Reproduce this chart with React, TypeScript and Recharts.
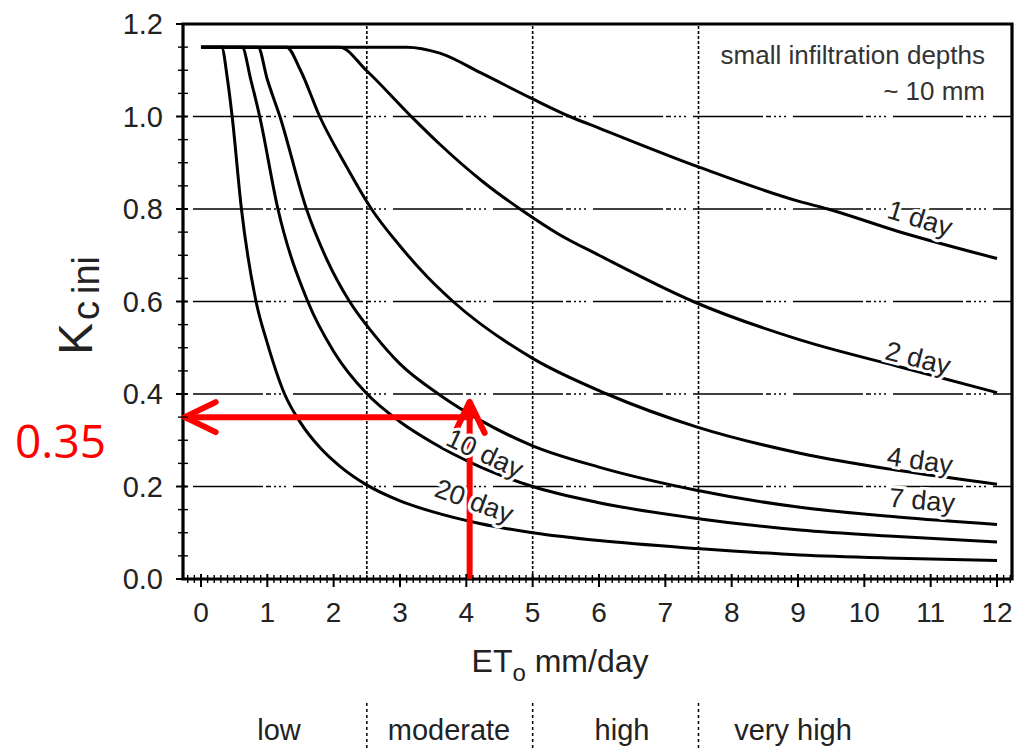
import React from "react";
import { LineChart, Line, XAxis, YAxis, ReferenceLine, ReferenceArea, ReferenceDot } from "recharts";

// ET0 (mm/day) and Kc ini, one pair of arrays per wetting interval
const et0Day1 = [0, 3.1, 3.6, 4.25, 5.0, 5.56, 6.0, 7.5, 9.03, 9.45, 10.5, 12];
const kcDay1 = [1.15, 1.15, 1.137, 1.092, 1.038, 1.0, 0.975, 0.891, 0.816, 0.8, 0.752, 0.693];

const et0Day2 = [0, 2.09, 2.49, 3.17, 3.6, 4.25, 4.81, 5.4, 6.0, 7.42, 9.03, 10.5, 12];
const kcDay2 = [1.15, 1.15, 1.1, 1.0, 0.94, 0.859, 0.8, 0.745, 0.7, 0.6, 0.517, 0.46, 0.403];

const et0Day4 = [0, 1.29, 1.5, 1.79, 2.2, 2.57, 3.0, 3.4, 3.8, 5.0, 6.12, 7.47, 9.03, 10.5, 12];
const kcDay4 = [1.15, 1.15, 1.1, 1.0, 0.89, 0.8, 0.72, 0.655, 0.6, 0.477, 0.4, 0.329, 0.272, 0.235, 0.205];

const et0Day7 = [0, 0.86, 1.0, 1.19, 1.59, 1.9, 2.24, 2.6, 3.0, 3.6, 4.2, 5.0, 6.0, 7.47, 9.03, 10.5, 12];
const kcDay7 = [1.15, 1.15, 1.08, 1.0, 0.8, 0.69, 0.6, 0.53, 0.465, 0.398, 0.344, 0.288, 0.242, 0.192, 0.155, 0.134, 0.118];

const et0Day10 = [0, 0.62, 0.75, 0.885, 1.16, 1.61, 2.0, 2.49, 3.0, 3.5, 4.2, 5.0, 6.0, 7.47, 9.03, 10.5, 12];
const kcDay10 = [1.15, 1.15, 1.08, 1.0, 0.8, 0.6, 0.492, 0.402, 0.34, 0.294, 0.243, 0.2, 0.165, 0.131, 0.106, 0.092, 0.08];

const et0Day20 = [0, 0.31, 0.4, 0.47, 0.61, 0.83, 1.0, 1.26, 1.5, 1.8, 2.1, 2.49, 3.0, 3.5, 4.2, 5.0, 6.0, 7.47, 9.03, 10.5, 12];
const kcDay20 = [1.15, 1.15, 1.08, 1.0, 0.8, 0.6, 0.51, 0.4, 0.338, 0.283, 0.243, 0.204, 0.169, 0.145, 0.12, 0.1, 0.083, 0.066, 0.052, 0.045, 0.04];

const curveNames = ["1 day", "2 day", "4 day", "7 day", "10 day", "20 day"];
const curveX = [et0Day1, et0Day2, et0Day4, et0Day7, et0Day10, et0Day20];
const curveY = [kcDay1, kcDay2, kcDay4, kcDay7, kcDay10, kcDay20];

// where the curve names sit (ET0, Kc) and their tilt
const labelX = [10.84, 10.81, 10.84, 10.87, 4.28, 4.12];
const labelY = [0.78, 0.478, 0.257, 0.171, 0.272, 0.169];
const labelAngle = [17, 14, 8, 5, 25, 20];

const gridKc = [0.2, 0.4, 0.6, 0.8, 1.0];
const zoneBounds = [2.5, 5, 7.5];
const zoneNames = ["low", "moderate", "high", "very high"];
const zoneCenters = [279, 449, 622, 793];

// annotation read-off: ET0 = 4 -> Kc ini = 0.35
const readEt0 = 4.05;
const readKc = 0.35;
const readTip = 0.383;

const X_MIN = -0.271;
const X_MAX = 12.226;
const xTicks = Array.from({ length: 125 }, (_, i) => Math.round(i - 2) / 10);
const yTicks = Array.from({ length: 25 }, (_, i) => Math.round(i * 5) / 100);

const W = 1014;
const H = 748;
const PLOT = { left: 183, top: 24, width: 829, height: 555 };
const xPx = (v: number) => PLOT.left + ((v - X_MIN) / (X_MAX - X_MIN)) * PLOT.width;

const FONT = "'Liberation Sans', Arial, sans-serif";
const gridDash = "70 3 5 3 2 3 2 3 2 7";

const XTick = (props: any) => {
  const { x, y, payload } = props;
  const v = Math.round(payload.value * 10) / 10;
  const major = Number.isInteger(v) && v >= 0;
  return (
    <g>
      <line x1={x} x2={x} y1={major ? y - 5 : y - 4} y2={major ? y + 8 : y + 4} stroke="#000" strokeWidth={major ? 2 : 1.4} />
      {major && (
        <text x={x} y={y + 43} textAnchor="middle" fontSize={28} fontFamily={FONT} fill="#222">
          {v}
        </text>
      )}
    </g>
  );
};

const YTick = (props: any) => {
  const { x, y, payload } = props;
  const v = Math.round(payload.value * 100) / 100;
  const major = Math.abs(v * 5 - Math.round(v * 5)) < 1e-6;
  return (
    <g>
      <line x1={major ? x - 7 : x - 5} x2={x + 5} y1={y} y2={y} stroke="#000" strokeWidth={major ? 2 : 1.4} />
      {major && (
        <text x={x - 20} y={y} dy="0.35em" textAnchor="end" fontSize={29} fontFamily={FONT} fill="#222">
          {v.toFixed(1)}
        </text>
      )}
    </g>
  );
};

const Arrow = (p: any) => {
  const { x1, y1, x2, y2 } = p;
  const len = Math.hypot(x2 - x1, y2 - y1) || 1;
  const ux = (x2 - x1) / len;
  const uy = (y2 - y1) / len;
  const L = 31;
  const S = 15;
  const a = `${x2 - L * ux - S * uy},${y2 - L * uy + S * ux}`;
  const b = `${x2 - L * ux + S * uy},${y2 - L * uy - S * ux}`;
  return (
    <g stroke="#ff0000" strokeWidth={6} strokeLinecap="round" strokeLinejoin="round" fill="none">
      <line x1={x1} y1={y1} x2={x2} y2={y2} strokeLinecap="butt" />
      <polyline points={`${a} ${x2},${y2} ${b}`} />
    </g>
  );
};

export default function App() {
  const series = curveNames.map((name, i) => ({
    name,
    data: curveX[i].map((x, j) => ({ x, y: curveY[i][j] })),
  }));

  return (
    <div style={{ position: "absolute", left: 0, top: 0, width: W, height: H, background: "#fff" }}>
      <LineChart width={W} height={H} margin={{ top: PLOT.top, right: W - PLOT.left - PLOT.width, bottom: 0, left: 0 }}>
        <XAxis
          type="number"
          dataKey="x"
          domain={[X_MIN, X_MAX]}
          allowDataOverflow
          ticks={xTicks}
          interval={0}
          tickSize={0}
          tickMargin={0}
          axisLine={false}
          tickLine={false}
          tick={<XTick />}
          height={H - PLOT.top - PLOT.height}
        />
        <YAxis
          type="number"
          domain={[0, 1.2]}
          allowDataOverflow
          ticks={yTicks}
          interval={0}
          tickSize={0}
          tickMargin={0}
          axisLine={false}
          tickLine={false}
          tick={<YTick />}
          width={PLOT.left}
        />
        {gridKc.map((v) => (
          <ReferenceLine key={`g${v}`} y={v} stroke="#000" strokeWidth={1.6} strokeDasharray={gridDash} strokeDashoffset={90} />
        ))}
        {zoneBounds.map((v) => (
          <ReferenceLine key={`z${v}`} x={v} stroke="#000" strokeWidth={1.6} strokeDasharray="3 2" />
        ))}
        {series.map((s) => (
          <Line
            key={s.name}
            data={s.data}
            dataKey="y"
            type="monotone"
            stroke="#000"
            strokeWidth={3}
            dot={false}
            isAnimationActive={false}
          />
        ))}
        {curveNames.map((name, i) => (
          <ReferenceDot
            key={`l${name}`}
            x={labelX[i]}
            y={labelY[i]}
            r={0}
            shape={(p: any) => (
              <text
                x={p.cx}
                y={p.cy}
                dy="0.35em"
                textAnchor="middle"
                transform={`rotate(${labelAngle[i]} ${p.cx} ${p.cy})`}
                fontSize={27}
                fontFamily={FONT}
                fill="#222"
                stroke="#fff"
                strokeWidth={6}
                paintOrder="stroke"
              >
                {name}
              </text>
            )}
          />
        ))}
        <ReferenceArea x1={X_MIN} x2={X_MAX} y1={0} y2={1.2} fill="none" fillOpacity={0} stroke="#000" strokeWidth={3.2} />
        <ReferenceLine
          segment={[
            { x: readEt0, y: 0 },
            { x: readEt0, y: readTip },
          ]}
          shape={Arrow}
        />
        <ReferenceLine
          segment={[
            { x: readEt0 + 0.05, y: readKc },
            { x: -0.246, y: readKc },
          ]}
          shape={Arrow}
        />
      </LineChart>
      <svg width={W} height={H} style={{ position: "absolute", left: 0, top: 0, pointerEvents: "none" }}>
        <text x={985} y={64} textAnchor="end" fontSize={26} fontFamily={FONT} fill="#333">
          small infiltration depths
        </text>
        <text x={985} y={100} textAnchor="end" fontSize={26} fontFamily={FONT} fill="#333">
          ~ 10 mm
        </text>
        <text x={92} y={355} transform="rotate(-90 92 355)" fontFamily={FONT} fill="#222">
          <tspan fontSize={48}>K</tspan>
          <tspan fontSize={38} dy={7} dx={3}>c</tspan>
          <tspan fontSize={38} dx={7}>ini</tspan>
        </text>
        <text x={560} y={672} textAnchor="middle" fontFamily={FONT} fill="#222" fontSize={32}>
          ET<tspan fontSize={24} dy={9}>o</tspan>
          <tspan dy={-9}> mm/day</tspan>
        </text>
        {zoneNames.map((n, i) => (
          <text key={n} x={zoneCenters[i]} y={740} textAnchor="middle" fontSize={29} fontFamily={FONT} fill="#222">
            {n}
          </text>
        ))}
        {zoneBounds.map((v) => (
          <line key={`s${v}`} x1={xPx(v)} x2={xPx(v)} y1={703} y2={748} stroke="#000" strokeWidth={1.5} strokeDasharray="3 3" />
        ))}
        <text x={15} y={458} fontSize={46} fontFamily="'Open Sans', sans-serif" fill="#ff0000">
          0.35
        </text>
      </svg>
    </div>
  );
}
